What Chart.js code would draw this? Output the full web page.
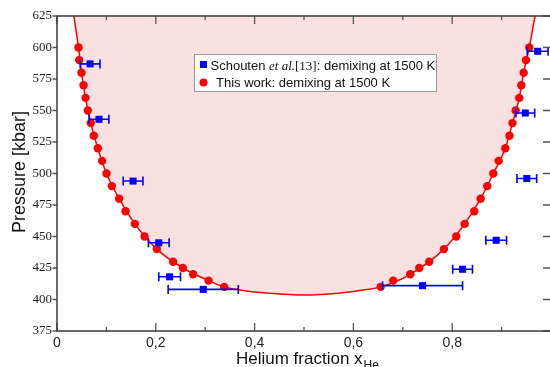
<!DOCTYPE html>
<html>
<head>
<meta charset="utf-8">
<script src="https://cdn.jsdelivr.net/npm/chart.js@4/dist/chart.umd.min.js"></script>
<style>
html,body{margin:0;padding:0;overflow:hidden;background:#fff;width:550px;height:367px;}
canvas{display:block;}
</style>
</head>
<body>
<canvas id="c" width="560" height="367" style="width:560px;height:367px"></canvas>
<script>
// Demixing boundary curve
const curveX = [0.034,0.0435,0.0496,0.0577,0.0684,0.0826,0.1002,0.1258,0.1576,0.2021,0.2548,0.3068,0.3384,0.38,0.43,0.50,0.57,0.62,0.6551,0.7151,0.7833,0.8252,0.8576,0.8832,0.9075,0.922,0.9358,0.9447,0.956,0.9677];
const curveP = [625,600,580,560,540,520,500,480,460,440,425,415,410,407,405,403.6,405,407.5,410,420,440,460,480,500,520,540,560,580,600,625];

// This work: demixing at 1500 K
const redX = [0.0435,0.0448,0.0496,0.0537,0.0577,0.0624,0.0684,0.0745,0.0826,0.0913,0.1002,0.111,0.1258,0.1387,0.1576,0.1772,0.2021,0.2351,0.2548,0.2756,0.3068,0.3384,
              0.6551,0.6806,0.7151,0.7333,0.7535,0.7833,0.8082,0.8252,0.8447,0.8576,0.871,0.8832,0.8941,0.9075,0.916,0.922,0.9285,0.9358,0.9399,0.9447,0.9494,0.956];
const redP = [600,590,580,570,560,550,540,530,520,510,500,490,480,470,460,450,440,430,425,420,415,410,
              410,415,420,425,430,440,450,460,470,480,490,500,510,520,530,540,550,560,570,580,590,600];

// Schouten et al. [13]: demixing at 1500 K
const blueX   = [0.067,0.085,0.154,0.206,0.228,0.296,0.740,0.821,0.889,0.951,0.948,0.973];
const blueP   = [587,543,494,445,418,408,411,424,447,496,548,597];
const blueErr = [0.020,0.020,0.020,0.021,0.022,0.071,0.081,0.020,0.021,0.020,0.019,0.021];

const xTicks = [0,0.2,0.4,0.6,0.8];
const xMinorTicks = [0.1,0.3,0.5,0.7,0.9];
const yTicks = [375,400,425,450,475,500,525,550,575,600,625];

const legendLabels = ["Schouten ", "et al.", "[13]", ": demixing at 1500 K", "This work: demixing at 1500 K"];
const xTitle = "Helium fraction x";
const xTitleSub = "He";
const yTitle = "Pressure [kbar]";

const toXY = (xs, ys) => xs.map((x, i) => ({x: x, y: ys[i]}));

const errorBars = {
  id: 'errorBars',
  beforeDatasetDraw(chart, args) {
    if (args.index !== 2) return;
    const ctx = chart.ctx, xs = chart.scales.x, ys = chart.scales.y;
    ctx.save();
    ctx.strokeStyle = '#0000ff';
    ctx.lineWidth = 1.6;
    blueX.forEach((x, i) => {
      const x0 = xs.getPixelForValue(x - blueErr[i]);
      const x1 = xs.getPixelForValue(x + blueErr[i]);
      const y = ys.getPixelForValue(blueP[i]);
      ctx.beginPath();
      ctx.moveTo(x0, y); ctx.lineTo(x1, y);
      ctx.moveTo(x0, y - 4.5); ctx.lineTo(x0, y + 4.5);
      ctx.moveTo(x1, y - 4.5); ctx.lineTo(x1, y + 4.5);
      ctx.stroke();
    });
    ctx.restore();
  }
};

const frameAndDecor = {
  id: 'frameAndDecor',
  afterDraw(chart) {
    const ctx = chart.ctx, a = chart.chartArea, xs = chart.scales.x, ys = chart.scales.y;
    ctx.save();
    // ticks
    ctx.strokeStyle = '#555';
    ctx.lineWidth = 1.3;
    ctx.beginPath();
    xTicks.forEach(v => {
      const p = xs.getPixelForValue(v);
      ctx.moveTo(p, a.bottom); ctx.lineTo(p, a.bottom - 8);
      ctx.moveTo(p, a.top); ctx.lineTo(p, a.top + 8);
    });
    xMinorTicks.forEach(v => {
      const p = xs.getPixelForValue(v);
      ctx.moveTo(p, a.bottom); ctx.lineTo(p, a.bottom - 4);
      ctx.moveTo(p, a.top); ctx.lineTo(p, a.top + 4);
    });
    yTicks.forEach(v => {
      const p = ys.getPixelForValue(v);
      ctx.moveTo(a.left, p); ctx.lineTo(a.left - 4.5, p);
      ctx.moveTo(a.right, p); ctx.lineTo(a.right - 8, p);
    });
    ctx.stroke();
    // frame
    ctx.strokeStyle = '#3a3a3a';
    ctx.lineWidth = 1.5;
    ctx.strokeRect(a.left, a.top, a.right - a.left, a.bottom - a.top);

    // axis titles
    ctx.fillStyle = '#111';
    ctx.font = '17px "Liberation Sans", Arial, sans-serif';
    ctx.textBaseline = 'alphabetic';
    ctx.textAlign = 'left';
    const tx = 236, tyb = 364;
    ctx.fillText(xTitle, tx, tyb);
    const w = ctx.measureText(xTitle).width;
    ctx.font = '12px "Liberation Sans", Arial, sans-serif';
    ctx.fillText(xTitleSub, tx + w + 1, tyb + 5);

    ctx.save();
    ctx.translate(25, 172);
    ctx.rotate(-Math.PI / 2);
    ctx.font = '18px "Liberation Sans", Arial, sans-serif';
    ctx.textAlign = 'center';
    ctx.fillText(yTitle, 0, 0);
    ctx.restore();

    // legend
    const lx = 194.5, ly = 54.5, lw = 242, lh = 37;
    ctx.fillStyle = '#ffffff';
    ctx.fillRect(lx, ly, lw, lh);
    ctx.strokeStyle = '#9a9a9a';
    ctx.lineWidth = 1;
    ctx.strokeRect(lx, ly, lw, lh);
    ctx.fillStyle = '#0000ff';
    ctx.fillRect(200, 61, 7, 7);
    ctx.fillStyle = '#ff0000';
    ctx.beginPath(); ctx.arc(203.5, 82.5, 4, 0, Math.PI * 2); ctx.fill();
    ctx.fillStyle = '#111';
    ctx.textBaseline = 'alphabetic';
    let x = 210.5; const b1 = 69.5, b2 = 87;
    ctx.font = '13px "Liberation Sans", Arial, sans-serif';
    ctx.fillText(legendLabels[0], x, b1); x += ctx.measureText(legendLabels[0]).width;
    ctx.font = 'italic 13px "Liberation Serif", "Times New Roman", serif';
    ctx.fillText(legendLabels[1], x, b1); x += ctx.measureText(legendLabels[1]).width;
    ctx.font = '13px "Liberation Serif", "Times New Roman", serif';
    ctx.fillText(legendLabels[2], x, b1); x += ctx.measureText(legendLabels[2]).width;
    ctx.font = '13px "Liberation Sans", Arial, sans-serif';
    ctx.fillText(legendLabels[3], x, b1);
    ctx.fillText(legendLabels[4], 216, b2);
    ctx.restore();
  }
};

new Chart(document.getElementById('c'), {
  type: 'scatter',
  data: {
    datasets: [
      {
        type: 'line',
        label: 'boundary',
        data: toXY(curveX, curveP),
        borderColor: '#ff0000',
        borderWidth: 1.5,
        backgroundColor: 'rgba(249,225,225,1)',
        fill: 'end',
        pointRadius: 0,
        cubicInterpolationMode: 'monotone',
        order: 2
      },
      {
        label: 'This work: demixing at 1500 K',
        data: toXY(redX, redP),
        backgroundColor: '#ff0000',
        borderWidth: 0,
        pointRadius: 4.2,
        order: 1
      },
      {
        label: 'Schouten et al. [13]: demixing at 1500 K',
        data: toXY(blueX, blueP),
        backgroundColor: '#0000ff',
        borderWidth: 0,
        pointStyle: 'rect',
        pointRadius: 5,
        order: 0
      }
    ]
  },
  options: {
    responsive: false,
    animation: false,
    events: [],
    layout: { padding: { top: 16, right: 9, left: 0, bottom: 0 } },
    plugins: { legend: { display: false }, tooltip: { enabled: false } },
    scales: {
      x: {
        type: 'linear', min: 0, max: 1,
        grid: { display: false, drawTicks: false },
        border: { display: false },
        afterFit: s => { s.height = 36; },
        afterBuildTicks: s => { s.ticks = xTicks.map(v => ({ value: v })); },
        ticks: {
          padding: 4,
          color: '#222',
          font: { family: '"Liberation Sans", Arial, sans-serif', size: 14 },
          callback: v => String(v).replace('.', ','),
          maxRotation: 0
        }
      },
      y: {
        type: 'linear', min: 375, max: 625,
        grid: { display: false, drawTicks: false },
        border: { display: false },
        afterFit: s => { s.width = 57; },
        afterBuildTicks: s => { s.ticks = yTicks.map(v => ({ value: v })); },
        ticks: {
          padding: 5,
          color: '#222',
          font: { family: '"Liberation Serif", "Times New Roman", serif', size: 13 }
        }
      }
    }
  },
  plugins: [errorBars, frameAndDecor]
});
</script>
</body>
</html>
